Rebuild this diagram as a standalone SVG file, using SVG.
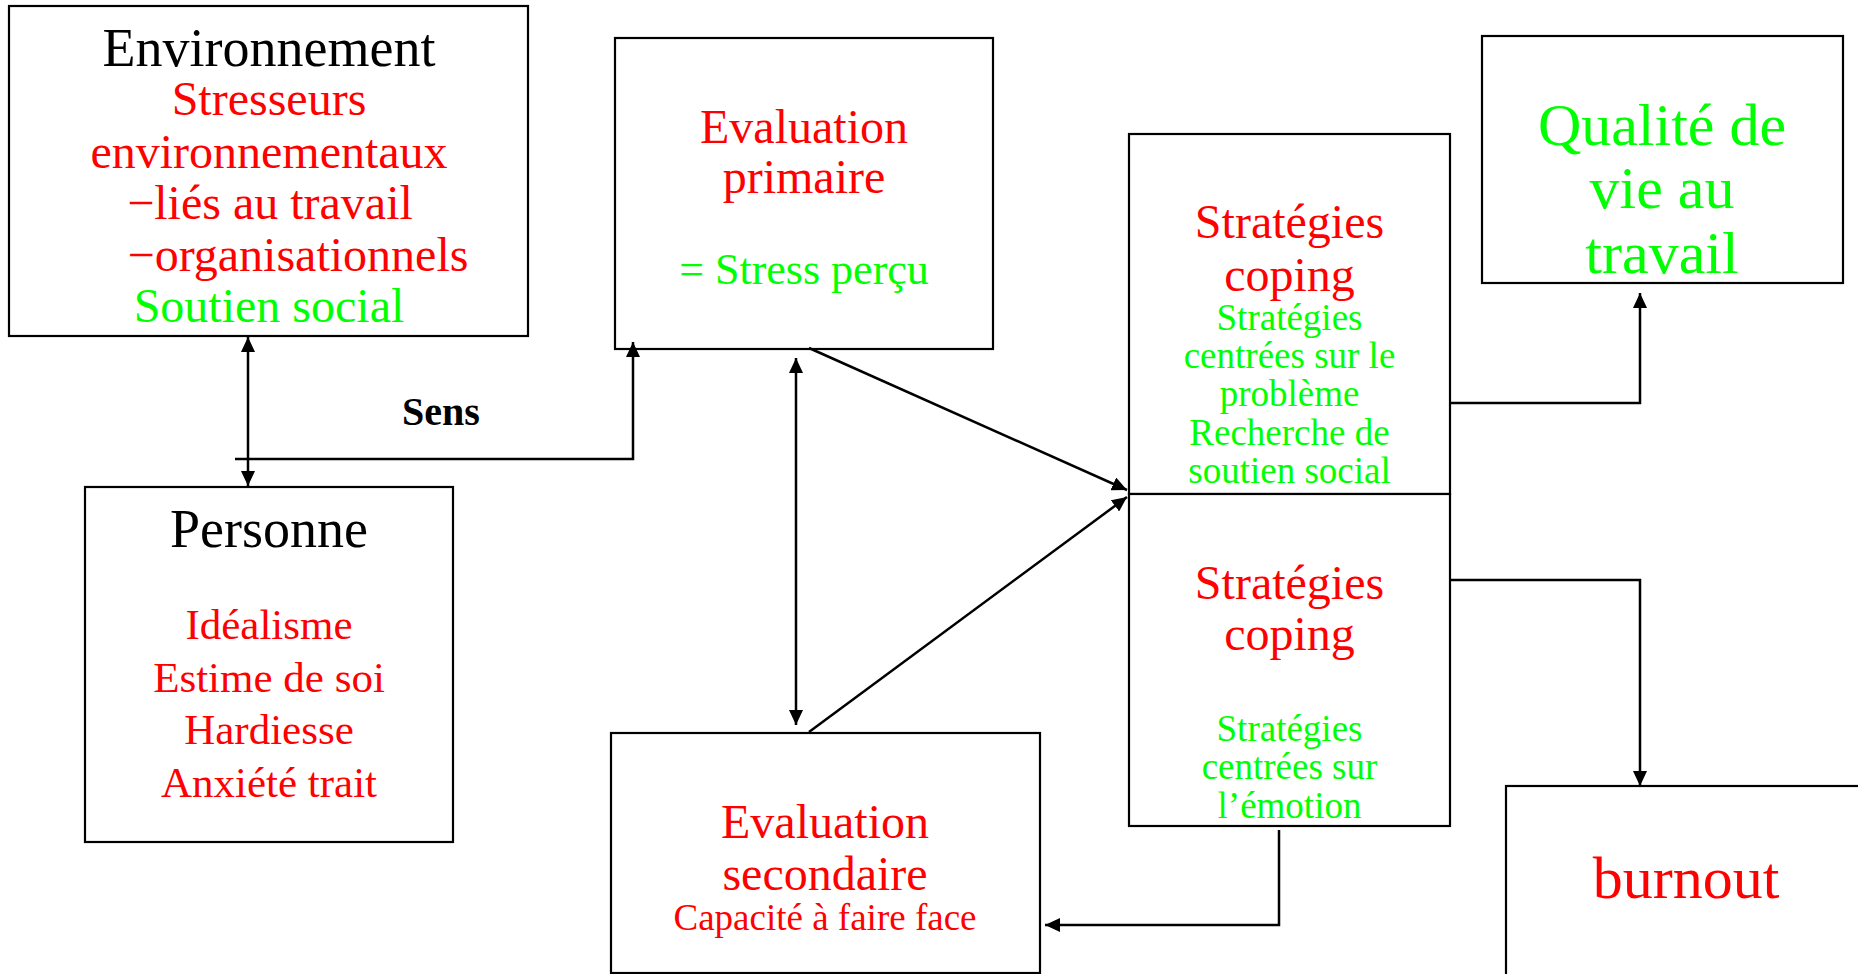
<svg xmlns="http://www.w3.org/2000/svg" width="1858" height="974" viewBox="0 0 1858 974">
<style>
.box{fill:#fff;stroke:#000;stroke-width:2.2}
text{font-family:"Liberation Serif","Times New Roman",serif;text-anchor:middle}
.blk{fill:#000;font-size:54px}
.red{fill:#ff0000;font-size:48px}
.grn{fill:#00ff00}
.g47{font-size:48px}
.pers{fill:#ff0000;font-size:43px}
.gs{fill:#00ff00;font-size:37px}
.cap{fill:#ff0000;font-size:37px}
.big{font-size:60px}
.sens{fill:#000;font-size:40px;font-weight:bold}
.con{fill:none;stroke:#000;stroke-width:2.5}
</style>
<defs>
<marker id="ah" markerUnits="userSpaceOnUse" markerWidth="15" markerHeight="14" refX="15" refY="7" orient="auto-start-reverse" viewBox="0 0 15 14">
<path d="M0,0 L15,7 L0,14 z" fill="#000"/>
</marker>
</defs>
<rect width="1858" height="974" fill="#fff"/>

<g id="environnement">
<rect class="box" x="9" y="6" width="519" height="330"/>
<text class="blk" x="269" y="66">Environnement</text>
<text class="red" x="269" y="115">Stresseurs</text>
<text class="red" x="269" y="168">environnementaux</text>
<text class="red" x="270" y="219">−liés au travail</text>
<text class="red" x="298" y="271">−organisationnels</text>
<text class="grn g47" x="269" y="322">Soutien social</text>
</g>

<g id="personne">
<rect class="box" x="85" y="487" width="368" height="355"/>
<text class="blk" x="269" y="547">Personne</text>
<text class="pers" x="269" y="639">Idéalisme</text>
<text class="pers" x="269" y="692">Estime de soi</text>
<text class="pers" x="269" y="744">Hardiesse</text>
<text class="pers" x="269" y="797">Anxiété trait</text>
</g>

<g id="eval-primaire">
<rect class="box" x="615" y="38" width="378" height="311"/>
<text class="red" x="804" y="143">Evaluation</text>
<text class="red" x="804" y="193">primaire</text>
<text class="grn" x="804" y="284" style="font-size:44px">= Stress perçu</text>
</g>

<g id="eval-secondaire">
<rect class="box" x="611" y="733" width="429" height="240"/>
<text class="red" x="825" y="838">Evaluation</text>
<text class="red" x="825" y="890">secondaire</text>
<text class="cap" x="825" y="930">Capacité à faire face</text>
</g>

<g id="coping-probleme">
<rect class="box" x="1129" y="134" width="321" height="360"/>
<text class="red" x="1289.5" y="238">Stratégies</text>
<text class="red" x="1289.5" y="291">coping</text>
<text class="gs" x="1289.5" y="330">Stratégies</text>
<text class="gs" x="1289.5" y="368">centrées sur le</text>
<text class="gs" x="1289.5" y="406">problème</text>
<text class="gs" x="1289.5" y="445">Recherche de</text>
<text class="gs" x="1289.5" y="483">soutien social</text>
</g>

<g id="coping-emotion">
<rect class="box" x="1129" y="494" width="321" height="332"/>
<text class="red" x="1289.5" y="599">Stratégies</text>
<text class="red" x="1289.5" y="650">coping</text>
<text class="gs" x="1289.5" y="741">Stratégies</text>
<text class="gs" x="1289.5" y="779">centrées sur</text>
<text class="gs" x="1289.5" y="818">l’émotion</text>
</g>

<g id="qualite">
<rect class="box" x="1482" y="36" width="361" height="247"/>
<text class="grn big" x="1662" y="145">Qualité de</text>
<text class="grn big" x="1662" y="208">vie au</text>
<text class="grn big" x="1662" y="273">travail</text>
</g>

<g id="burnout">
<rect class="box" x="1506" y="786" width="400" height="260"/>
<text class="red big" x="1686" y="898">burnout</text>
</g>

<g id="sens-label">
<text class="sens" x="441" y="425">Sens</text>
</g>

<g id="connectors">
<line class="con" x1="248" y1="337" x2="248" y2="486" marker-start="url(#ah)" marker-end="url(#ah)"/>
<polyline class="con" points="235,459 633,459 633,342" marker-end="url(#ah)"/>
<line class="con" x1="796" y1="358" x2="796" y2="725" marker-start="url(#ah)" marker-end="url(#ah)"/>
<line class="con" x1="809" y1="348" x2="1127" y2="490" marker-end="url(#ah)"/>
<line class="con" x1="809" y1="732" x2="1127" y2="497" marker-end="url(#ah)"/>
<polyline class="con" points="1450,403 1640,403 1640,293" marker-end="url(#ah)"/>
<polyline class="con" points="1450,580 1640,580 1640,786" marker-end="url(#ah)"/>
<polyline class="con" points="1279,830 1279,925 1045,925" marker-end="url(#ah)"/>
</g>
</svg>
